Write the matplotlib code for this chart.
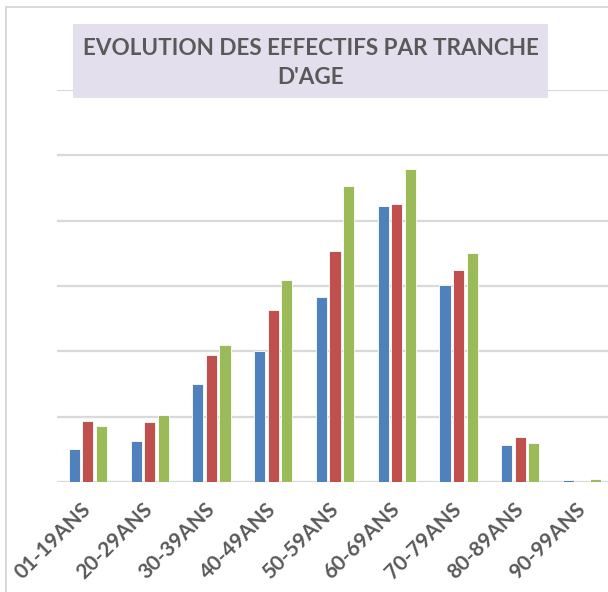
import matplotlib
matplotlib.use("Agg")
import matplotlib.pyplot as plt
import numpy as np
from matplotlib.lines import Line2D
from matplotlib.patches import Rectangle

CATEGORIES = ["01-19ANS", "20-29ANS", "30-39ANS", "40-49ANS", "50-59ANS",
              "60-69ANS", "70-79ANS", "80-89ANS", "90-99ANS"]
SERIE_1 = [5.1, 6.3, 15.0, 20.0, 28.3, 42.2, 30.2, 5.7, 0.3]
SERIE_2 = [9.3, 9.2, 19.4, 26.3, 35.4, 42.6, 32.5, 6.9, 0.0]
SERIE_3 = [8.6, 10.2, 21.0, 30.9, 45.3, 47.9, 35.1, 6.0, 0.5]
TITLE = "EVOLUTION DES EFFECTIFS PAR TRANCHE\nD'AGE"

COLORS = ["#4F81BD", "#C0504D", "#9BBB59"]
GRID = "#D9D9D9"
TEXT = "#595959"
TITLE_BG = "#E4DFEC"
FONT = "Lato"

W, H = 608, 592
fig = plt.figure(figsize=(W / 100, H / 100), dpi=100, facecolor="white")

# plot area in pixel coords: x 57..613, y 90..482 (from top)
ax = fig.add_axes([57 / W, (H - 482) / H, 556 / W, 392 / H])
ax.set_facecolor("white")

x = np.arange(len(CATEGORIES))
bw = 0.18
step = 0.22
for i, (vals, col) in enumerate(zip([SERIE_1, SERIE_2, SERIE_3], COLORS)):
    ax.bar(x + (i - 1) * step, vals, width=bw, color=col,
           edgecolor="white", linewidth=0.6, zorder=3)

ax.set_xlim(-0.5, len(CATEGORIES) - 0.5)
ax.set_ylim(0, 60)
ax.set_yticks(np.arange(0, 61, 10))
ax.yaxis.grid(True, color=GRID, linewidth=1.6, zorder=0)
ax.tick_params(axis="y", left=False, labelleft=False)
ax.tick_params(axis="x", bottom=False, pad=14)
ax.set_xticks(x)
ax.set_xticklabels(CATEGORIES, rotation=45, ha="right", va="center",
                   rotation_mode="anchor", fontsize=15, fontweight="bold",
                   color=TEXT, family=FONT)
for side in ["top", "right", "left", "bottom"]:
    ax.spines[side].set_visible(False)

# chart area border (cut off at right and bottom)
fig.add_artist(Line2D([5.5 / W, 5.5 / W], [0, (H - 7) / H], color=GRID, linewidth=1.4))
fig.add_artist(Line2D([5.5 / W, 1], [(H - 7) / H, (H - 7) / H], color=GRID, linewidth=1.4))

# title box
fig.add_artist(Rectangle((73 / W, (H - 98) / H), 475 / W, 74 / H,
                         transform=fig.transFigure, facecolor=TITLE_BG,
                         edgecolor="none", zorder=5))
fig.text(311 / W, (H - 63) / H, TITLE, ha="center", va="center",
         fontsize=16.2, fontweight="bold", color=TEXT, family=FONT,
         linespacing=1.45, zorder=6)

fig.savefig("out.png", dpi=100, facecolor="white")
